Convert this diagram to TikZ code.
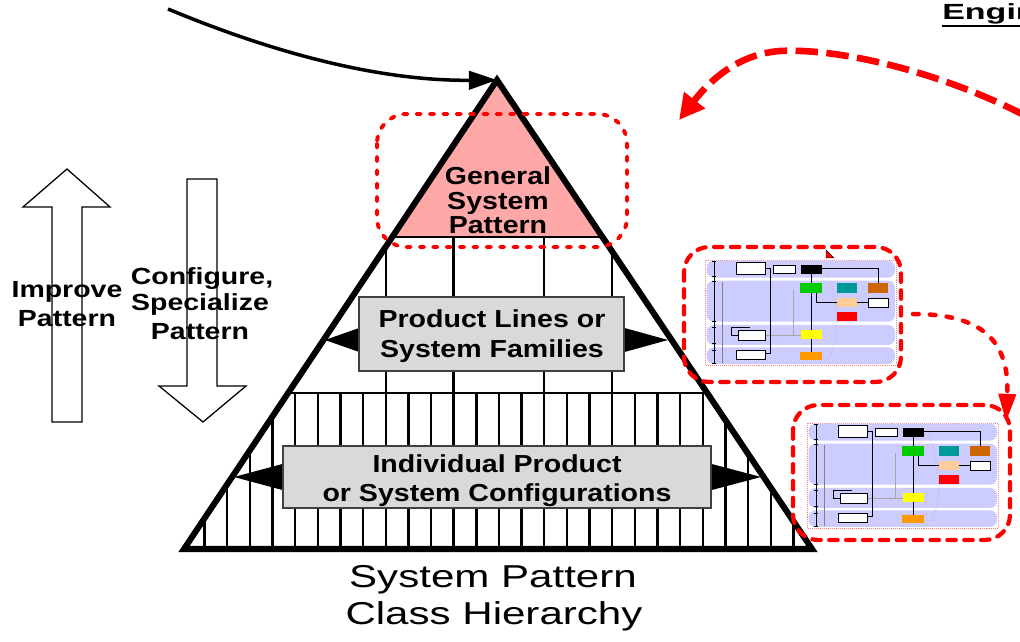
\documentclass[tikz,border=0pt]{standalone}
\usepackage{fontspec}
\setmainfont{Liberation Sans}
\newfontfamily\lblfont[FakeStretch=1.16]{Liberation Sans}
\newfontfamily\sidefont[FakeStretch=1.22]{Liberation Sans}
\newfontfamily\capfont[FakeStretch=1.33]{Liberation Sans}
\newfontfamily\engfont[FakeStretch=1.55]{Liberation Sans}
\usetikzlibrary{arrows.meta}
\definecolor{pyrpink}{RGB}{255,168,168}
\definecolor{boxgray}{RGB}{217,217,217}
\definecolor{boxedge}{RGB}{64,64,64}
\definecolor{lav}{RGB}{204,204,255}
\definecolor{tgreen}{RGB}{0,204,0}
\definecolor{tteal}{RGB}{0,153,153}
\definecolor{tbrown}{RGB}{204,102,0}
\definecolor{tpeach}{RGB}{255,204,153}
\definecolor{tyellow}{RGB}{255,255,0}
\definecolor{torange}{RGB}{255,153,0}
\tikzset{
  lbl/.style={anchor=base, inner sep=0pt, font=\lblfont\bfseries\fontsize{17.5}{20}\selectfont},
  side/.style={anchor=base, inner sep=0pt, font=\sidefont\bfseries\fontsize{16.6}{19}\selectfont},
  capt/.style={anchor=base, inner sep=0pt, font=\capfont\fontsize{22.5}{26}\selectfont},
  eng/.style={anchor=base west, inner sep=0pt, font=\engfont\bfseries\fontsize{15.6}{18}\selectfont},
  graybox/.style={draw=boxedge, fill=boxgray, line width=1.1pt, inner sep=0pt},
  blockarrow/.style={draw=black, fill=white, line width=0.9pt, line join=miter},
  pyredge/.style={line width=4.3pt, line join=miter},
  thinline/.style={line width=1.7pt},
  topdash/.style={draw=red, line width=2.8pt, line cap=round, dash pattern=on 3pt off 6.5pt, rounded corners=21pt},
  thumbdash/.style={draw=red, line width=3pt, line cap=round, dash pattern=on 6pt off 6pt, rounded corners=18pt},
  linkdash/.style={draw=red, line width=3.2pt, line cap=round, dash pattern=on 4pt off 8pt},
  bigdash/.style={draw=red, line width=4.7pt, dash pattern=on 16pt off 6pt},
  tbox/.style={draw=black, line width=0.3pt},
  tline/.style={draw=black, line width=0.6pt},
  thumbpic/.pic={
    \begin{scope}[scale=1/3]
      \fill[white] (75,60) rectangle (648,375);
      \draw[red!50, densely dotted, line width=0.4pt] (75,60) rectangle (648,375);
      \fill[lav, rounded corners=5pt] (80,62) rectangle (645,113);
      \fill[lav, rounded corners=5pt] (80,122) rectangle (645,245);
      \fill[lav, rounded corners=5pt] (80,255) rectangle (645,315);
      \fill[lav, rounded corners=5pt] (80,322) rectangle (645,372);
      \draw[tline] (103,64) -- (103,370);
      \draw[gray, line width=0.5pt] (128,125) -- (128,370);
      \foreach \yy in {64,110,125,243,262,310,330,370} {\draw[line width=0.5pt] (97,\yy) -- (109,\yy);}
      \draw[gray!70, line width=0.4pt] (255,285) -- (340,285);
      \draw[gray!70, line width=0.4pt] (340,150) -- (340,285) -- (363,285);
      \draw[gray!70, fill=white, line width=0.4pt] (340,285) circle (1.2pt);
      \draw[gray!70, line width=0.4pt, densely dotted] (440,100) .. controls (480,200) and (480,300) .. (445,355);
      \draw[tline] (255,85) -- (270,85) -- (270,340) -- (255,340);
      \draw[tline] (425,85) -- (595,85) -- (595,130);
      \draw[tline] (395,100) -- (395,335);
      \draw[tline] (410,160) -- (410,188) -- (470,188);
      \draw[tline] (530,188) -- (565,188);
      \draw[tline] (175,285) -- (155,285) -- (155,262) -- (210,262);
      \draw[tbox, fill=white] (170,68) rectangle (255,102);
      \draw[tbox, fill=white] (280,75) rectangle (345,100);
      \draw[tbox, fill=black] (365,75) rectangle (425,100);
      \fill[tgreen] (360,130) rectangle (425,160);
      \fill[tteal] (470,130) rectangle (530,160);
      \fill[tbrown] (563,130) rectangle (625,160);
      \fill[tpeach] (470,175) rectangle (530,200);
      \draw[tbox, fill=white] (565,175) rectangle (625,202);
      \fill[red] (470,215) rectangle (530,243);
      \draw[tbox, fill=white] (175,270) rectangle (255,300);
      \fill[tyellow] (363,270) rectangle (425,297);
      \draw[tbox, fill=white] (170,330) rectangle (255,358);
      \fill[torange] (360,335) rectangle (425,360);
    \end{scope}
  }
}
\begin{document}
\begin{tikzpicture}[x=0.025cm, y=-0.025cm]
\useasboundingbox (0,0) rectangle (1020,642);

% corner points of the pyramid
\coordinate (apex) at (497,80);
\coordinate (bl) at (184,549);
\coordinate (br) at (812,549);

% pink top
\fill[pyrpink] (apex) -- (392.2,237) -- (602.4,237) -- cycle;

% internal lines
\begin{scope}
  \clip (apex) -- (bl) -- (br) -- cycle;
  \draw[thinline] (300,237) -- (700,237);
  \draw[thinline] (200,393) -- (800,393);
  \foreach \k in {8,11,15,18} {\draw[thinline] (204.5+22.65*\k,237) -- (204.5+22.65*\k,393);}
  \foreach \k in {0,...,26} {\draw[thinline] (204.5+22.65*\k,393) -- (204.5+22.65*\k,560);}
\end{scope}

% black pointers behind the boxes
\fill (325,340) -- (362,327) -- (362,353) -- cycle;
\fill (668,340) -- (621,327) -- (621,353) -- cycle;
\fill (234,477) -- (286,463) -- (286,491) -- cycle;
\fill (761,477) -- (708,463) -- (708,491) -- cycle;

% grey boxes
\node[graybox, minimum width=6.625cm, minimum height=1.85cm] (prodbox) at (491.5,334) {};
\node[graybox, minimum width=10.7cm, minimum height=1.55cm] (indbox) at (497,477) {};

% texts in pyramid
\node[lbl] (g1) at (498,185) {General};
\node[lbl] (g2) at (498,209.5) {System};
\node[lbl] (g3) at (498,233.5) {Pattern};
\node[lbl] (p1) at (492,328) {Product Lines or};
\node[lbl] (p2) at (492,358) {System Families};
\node[lbl] (i1) at (497,473) {Individual Product};
\node[lbl] (i2) at (497,501) {or System Configurations};

% pyramid outline
\draw[pyredge] (apex) -- (bl) -- (br) -- cycle;

% red dashed frame around the top
\draw[topdash] (377,114) rectangle (627,247);

% black incoming arrow
\coordinate (blackstart) at (168,9);
\draw[line width=2.5pt, -{Triangle[length=20pt,width=13pt]}] (blackstart) .. controls (300,64) and (400,81) .. (apex);

% side block arrows
\draw[blockarrow] (67,169) -- (110,207) -- (82,207) -- (82,422) -- (52,422) -- (52,207) -- (23,207) -- cycle;
\draw[blockarrow] (203,422) -- (246,386) -- (217,386) -- (217,179) -- (187,179) -- (187,386) -- (159,386) -- cycle;
\node[side] (l1) at (67,298) {Improve};
\node[side] (l2) at (67,327) {Pattern};
\node[side] (c1) at (202,285) {Configure,};
\node[side] (c2) at (200,311) {Specialize};
\node[side] (c3) at (200,340) {Pattern};

% caption
\node[capt] (s1) at (493,587) {System Pattern};
\node[capt] (s2) at (494,624) {Class Hierarchy};

% header fragment
\node[eng] (eng) at (942,20) {Engin};
\coordinate (engend) at (1022,26);
\draw[line width=2.1pt] (942,26) -- (engend);

% thumbnails
\pic (th1) at (680,240) {thumbpic};
\pic (th2) at (782,403) {thumbpic};
\draw[thumbdash] (684,247) rectangle (901,382);
\draw[thumbdash] (793,405) rectangle (1010,540);
\fill[red, draw=black, line width=0.3pt] (826,250) -- (834,258) -- (826,258) -- cycle;

% red dashed arrows
\coordinate (bigstart) at (1024,115);
\coordinate (bigend) at (679,120);
\draw[bigdash, -{Triangle[length=18pt,width=18pt]}] (bigstart) .. controls (940,72) and (840,48) .. (780,51) .. controls (740,54) and (712,78) .. (bigend);
\coordinate (linkstart) at (913,314);
\coordinate (linkend) at (1006,422);
\draw[linkdash, -{Triangle[length=20pt,width=12pt]}] (linkstart) .. controls (975,314) and (1010,335) .. (linkend);
\end{tikzpicture}
\end{document}
